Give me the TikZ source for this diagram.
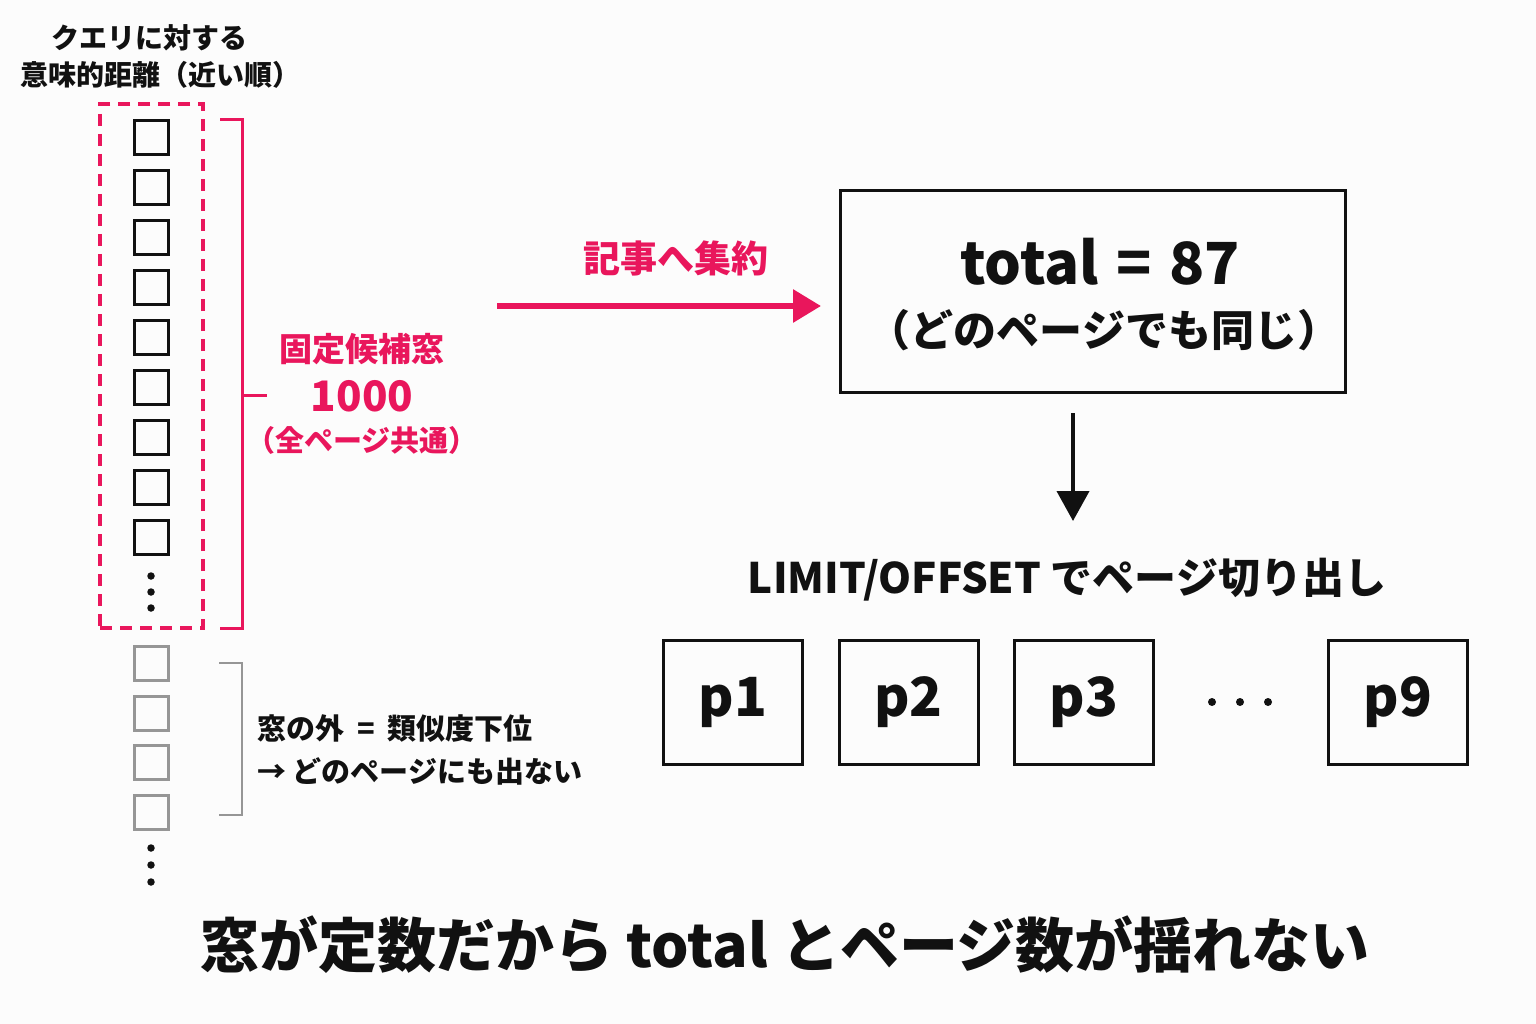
\documentclass[tikz,border=0pt]{standalone}
\usepackage{fontspec}
\setmainfont{Noto Sans CJK JP}
\usetikzlibrary{arrows.meta}
\definecolor{accent}{RGB}{233,22,92}
\definecolor{mute}{RGB}{150,150,150}
\definecolor{ink}{RGB}{17,17,17}
\definecolor{bg}{RGB}{252,252,252}
\begin{document}
\begin{tikzpicture}[x=1pt,y=-1pt,
  txt/.style={inner sep=0pt,text=ink,font=\bfseries\fontsize{#1}{#1}\selectfont},
  ptxt/.style={inner sep=0pt,text=accent,font=\bfseries\fontsize{#1}{#1}\selectfont},
  cell/.style={draw=ink,line width=3.5pt,minimum width=34pt,minimum height=34pt,inner sep=0pt},
  gcell/.style={draw=mute,line width=3pt,minimum width=34pt,minimum height=34pt,inner sep=0pt},
  dotn/.style={circle,fill=#1,inner sep=0pt,minimum size=7.5pt},
  pagebox/.style={draw=ink,line width=3pt,minimum width=139pt,minimum height=124pt,inner sep=0pt,font=\bfseries\fontsize{54}{54}\selectfont,text=ink},
]
\fill[bg] (0,0) rectangle (1536,1024);
\useasboundingbox (0,0) rectangle (1536,1024);

% heading
\node[txt=28] (h1) at (149,38) {クエリに対する};
\node[txt=28] (h2) at (160,75) {意味的距離（近い順）};

% window
\node[draw=accent,line width=4pt,dash pattern=on 12pt off 8pt,minimum width=103pt,minimum height=524pt,inner sep=0pt] (win) at (151.5,366) {};
\foreach \i in {0,...,8}{
  \node[cell] (c\i) at (151.5,{137.5+50*\i}) {};
}
\node[dotn=ink] (d1) at (151,576) {};
\node[dotn=ink] (d2) at (151,592) {};
\node[dotn=ink] (d3) at (151,608) {};

% outside squares
\foreach \i in {0,...,3}{
  \node[gcell] (g\i) at (151.5,{663.5+49.5*\i}) {};
}
\node[dotn=ink] (e1) at (151,848) {};
\node[dotn=ink] (e2) at (151,865) {};
\node[dotn=ink] (e3) at (151,882) {};

% pink bracket
\coordinate (bt) at (220,120);
\coordinate (bb) at (220,628);
\coordinate (bm) at (242,395);
\coordinate (bmt) at (267,395);
\draw[accent,line width=3pt] (bt) -| (bm) |- (bb);
\draw[accent,line width=3pt] (bm) -- (bmt);
\node[ptxt=33] (w1) at (362,349) {固定候補窓};
\node[ptxt=42] (w2) at (362,396) {1000};
\node[ptxt=29] (w3) at (362,440) {（全ページ共通）};

% gray bracket
\coordinate (gt) at (219,663);
\coordinate (gb) at (219,815);
\coordinate (gm) at (242,739);
\draw[mute,line width=2.5pt] (gt) -| (gm) |- (gb);
\node[txt=29,anchor=west] (o1) at (257,729) {窓の外\hspace{0.45em}=\hspace{0.45em}類似度下位};
\node[txt=29,anchor=west] (o2) at (257,771) {→ どのページにも出ない};

% aggregate arrow
\node[ptxt=37] (agg) at (676,258) {記事へ集約};
\node[draw=ink,line width=3pt,minimum width=505pt,minimum height=201pt,inner sep=0pt] (box) at (1092.5,291.5) {};
\node[txt=58] (t1) at (1100,262) {total\hspace{0.3em}=\hspace{0.3em}87};
\node[txt=43] (t2) at (1104,330) {（どのページでも同じ）};
\coordinate (aS) at (497,306);
\coordinate (aE) at (821,306);
\draw[accent,line width=6pt,-{Triangle[length=28pt,width=32pt]}] (aS) -- (aE);

% down arrow
\coordinate (dS) at (1073,413);
\coordinate (dE) at (1073,521);
\draw[ink,line width=4pt,-{Triangle[length=30pt,width=32pt]}] (dS) -- (dE);

\node[txt=42] (lim) at (1067,580) {LIMIT/OFFSET でページ切り出し};

% pages
\node[pagebox] (p1) at (733,702.5) {p1};
\node[pagebox] (p2) at (908.5,702.5) {p2};
\node[pagebox] (p3) at (1084,702.5) {p3};
\node[pagebox] (p9) at (1398,702.5) {p9};
\node[dotn=ink,minimum size=8pt] (q1) at (1212,702) {};
\node[dotn=ink,minimum size=8pt] (q2) at (1240,702) {};
\node[dotn=ink,minimum size=8pt] (q3) at (1268,702) {};

% bottom
\node[txt=59] (bottom) at (785,945) {窓が定数だから total とページ数が揺れない};
\end{tikzpicture}
\end{document}
